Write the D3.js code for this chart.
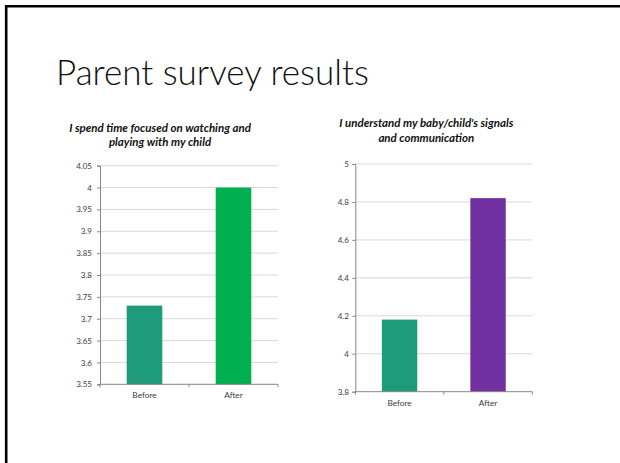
<!DOCTYPE html>
<html><head><meta charset="utf-8">
<script src="https://cdn.jsdelivr.net/npm/d3@7"></script>
<style>html,body{margin:0;padding:0;background:#fff}svg{display:block}</style>
</head><body>
<svg id="c" width="620" height="463"></svg>
<script>
const categories = ["Before", "After"];
const values1 = [3.73, 4.0];
const values2 = [4.18, 4.82];
const yTicks1 = [3.55, 3.6, 3.65, 3.7, 3.75, 3.8, 3.85, 3.9, 3.95, 4.0, 4.05];
const yTickLabels1 = ["3.55","3.6","3.65","3.7","3.75","3.8","3.85","3.9","3.95","4","4.05"];
const yTicks2 = [3.8, 4.0, 4.2, 4.4, 4.6, 4.8, 5.0];
const yTickLabels2 = ["3.8","4","4.2","4.4","4.6","4.8","5"];
const title1 = ["I spend time focused on watching and", "playing with my child"];
const title2 = ["I understand my baby/child's signals", "and communication"];
const colors1 = ["#1e9b7a", "#00b050"];
const colors2 = ["#1e9b7a", "#7030a0"];

const FONT = "Lato, 'Open Sans', sans-serif";
const svg = d3.select("#c");
svg.append("rect").attr("width",620).attr("height",463).attr("fill","#fff");
// slide border
svg.append("path").attr("d","M6.2,463 V6.2 H620").attr("fill","none").attr("stroke","#000").attr("stroke-width",2.6);

svg.append("text").attr("x",56).attr("y",85)
  .attr("font-family",FONT).attr("font-weight",300)
  .attr("font-size",35).attr("fill","#111").text("Parent survey results");

function chart(o){
  const g = svg.append("g");
  const x = d3.scaleBand().domain(categories).range([o.left,o.right]).paddingInner(0.6).paddingOuter(0.3);
  const y = d3.scaleLinear().domain(o.domain).range([o.bottom,o.top]);
  // grid
  g.selectAll("line.grid").data(o.ticks.slice(1)).join("line")
    .attr("x1",o.left).attr("x2",o.right).attr("y1",d=>y(d)).attr("y2",d=>y(d))
    .attr("stroke","#d9d9d9").attr("stroke-width",1);
  // bars
  g.selectAll("rect.bar").data(o.values).join("rect")
    .attr("x",(d,i)=>x(categories[i])).attr("width",x.bandwidth())
    .attr("y",d=>y(d)).attr("height",d=>y(o.domain[0])-y(d))
    .attr("fill",(d,i)=>o.colors[i]);
  // y axis
  const ya = d3.axisLeft(y).tickValues(o.ticks).tickSize(3).tickPadding(o.ypad)
    .tickFormat((d,i)=>o.labels[i]);
  const yg = g.append("g").attr("transform",`translate(${o.left},0)`).call(ya);
  yg.select(".domain").attr("stroke","#868686");
  yg.selectAll(".tick line").attr("stroke","#868686");
  yg.selectAll("text").attr("font-family",FONT).attr("font-size",8).attr("fill","#404040");
  // x axis
  const xa = d3.axisBottom(x).tickSize(0).tickPadding(o.xpad);
  const xg = g.append("g").attr("transform",`translate(0,${o.bottom})`).call(xa);
  xg.select(".domain").attr("stroke","#868686").attr("d",`M${o.left},0H${o.right}`);
  xg.selectAll("text").attr("font-family",FONT).attr("font-size",8.3).attr("fill","#404040");
  const edges = [o.left, o.left + (o.right-o.left)/2, o.right];
  g.selectAll("line.xt").data(edges).join("line")
    .attr("x1",d=>d).attr("x2",d=>d).attr("y1",o.bottom).attr("y2",o.bottom+3)
    .attr("stroke","#868686");
  // title
  const t = g.append("text").attr("text-anchor","middle")
    .attr("font-family",FONT).attr("font-weight",700).attr("font-style","italic")
    .attr("font-size",11.5).attr("fill","#111");
  o.title.forEach((s,i)=>t.append("tspan").attr("x",o.tx).attr("y",o.ty+i*14.6).text(s));
}

chart({left:100,right:278,top:165.7,bottom:384.3,domain:[3.55,4.05],ticks:yTicks1,labels:yTickLabels1,
  values:values1,colors:colors1,title:title1,tx:160,ty:131.8,ypad:5,xpad:8});
chart({left:355.3,right:532.3,top:164,bottom:391.7,domain:[3.8,5.0],ticks:yTicks2,labels:yTickLabels2,
  values:values2,colors:colors2,title:title2,tx:426.3,ty:127,ypad:3.5,xpad:8.8});
</script>
</body></html>
